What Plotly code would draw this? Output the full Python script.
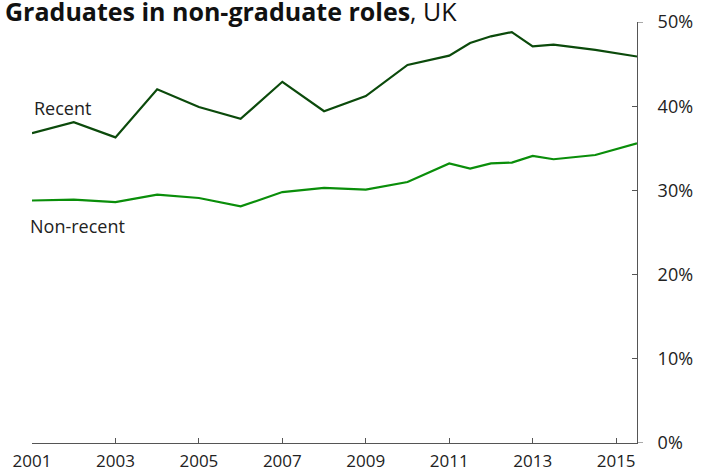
import plotly.graph_objects as go

# yearly to 2011, then roughly half-yearly
years = [2001, 2002, 2003, 2004, 2005, 2006, 2007, 2008, 2009, 2010,
         2011, 2011.5, 2012, 2012.5, 2013, 2013.5, 2014.5, 2015.5]
recent = [36.8, 38.1, 36.3, 42.0, 39.9, 38.5, 42.9, 39.4, 41.2, 44.9,
          46.0, 47.5, 48.3, 48.8, 47.1, 47.3, 46.7, 45.9]
non_recent = [28.8, 28.9, 28.6, 29.5, 29.1, 28.1, 29.8, 30.3, 30.1, 31.0,
              33.2, 32.6, 33.2, 33.3, 34.1, 33.7, 34.2, 35.6]

x_ticks = [2001, 2003, 2005, 2007, 2009, 2011, 2013, 2015]
y_ticks = [0, 10, 20, 30, 40, 50]
y_labels = [f"{v}%" for v in y_ticks]

FONT = "Open Sans, Noto Sans, sans-serif"
AXIS = "#555555"

fig = go.Figure()
fig.add_trace(go.Scatter(x=years, y=recent, mode="lines", name="Recent",
                         line=dict(color="#0b4a0b", width=2.2)))
fig.add_trace(go.Scatter(x=years, y=non_recent, mode="lines", name="Non-recent",
                         line=dict(color="#0a8e0a", width=2.2)))

fig.update_layout(
    width=701, height=475,
    margin=dict(l=32, r=64, t=22, b=32, autoexpand=False),
    plot_bgcolor="white", paper_bgcolor="white",
    showlegend=False,
    font=dict(family=FONT, size=18, color="#222222"),
)
fig.update_xaxes(
    range=[2001, 2015.5], tickvals=x_ticks, ticktext=[str(t) for t in x_ticks],
    showgrid=False, zeroline=False, showline=True, linecolor=AXIS, linewidth=1,
    ticks="inside", ticklen=5, tickcolor=AXIS, automargin=False,
    ticklabelstandoff=3, tickfont=dict(size=17),
)
fig.update_yaxes(
    range=[0, 50], tickvals=y_ticks, ticktext=y_labels, side="right",
    showgrid=False, zeroline=False, showline=True, linecolor=AXIS, linewidth=1,
    ticks="inside", ticklen=5, tickcolor=AXIS, automargin=False,
    ticklabelstandoff=16,
)

# small outward ticks at the ends of the value axis
for v in (0, 50):
    fig.add_shape(type="line", xref="paper", xsizemode="pixel", xanchor=1,
                  x0=0, x1=6, yref="y", y0=v, y1=v,
                  line=dict(color=AXIS, width=1))

fig.add_annotation(xref="paper", yref="paper", x=0, xshift=-29, y=1, yshift=-8,
                   xanchor="left", yanchor="bottom", showarrow=False,
                   text="<b>Graduates in non-graduate roles</b>, UK",
                   font=dict(size=25, color="#111111"))
fig.add_annotation(x=2001, y=39.8, xanchor="left", yanchor="middle", showarrow=False,
                   text="Recent", font=dict(size=18))
fig.add_annotation(x=2001, y=25.8, xanchor="left", yanchor="middle", showarrow=False,
                   xshift=-4, text="Non-recent", font=dict(size=18))

# page has a default body margin; drop it so the chart fills the window
fig.write_html("out.html", config={"displayModeBar": False},
               post_script="document.body.style.margin = '0';")
